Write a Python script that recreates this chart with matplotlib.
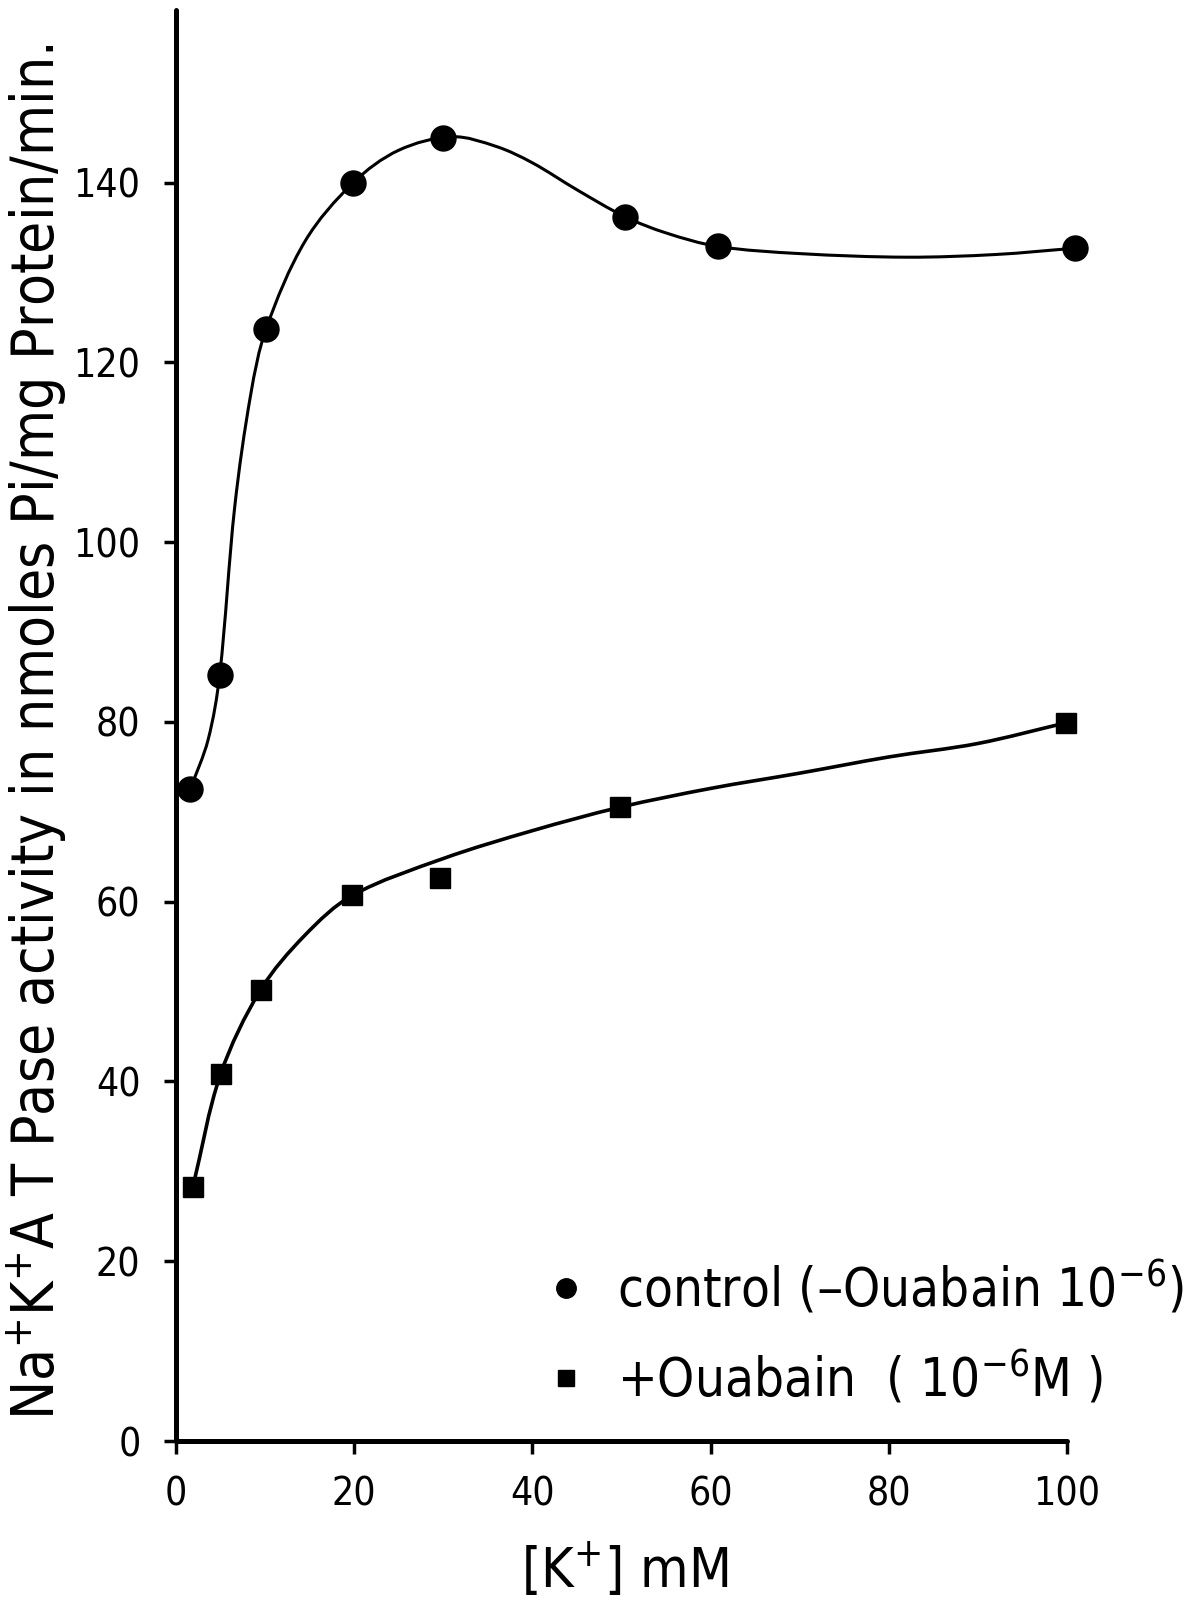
import matplotlib
matplotlib.use("Agg")
import matplotlib.pyplot as plt
from matplotlib import font_manager
from matplotlib.path import Path
from matplotlib.patches import PathPatch
from matplotlib.lines import Line2D
import numpy as np

# measured points
k_control = [1.6, 4.9, 10.1, 19.9, 30.0, 50.4, 60.8, 100.9]
act_control = [72.5, 85.2, 123.7, 140.0, 145.0, 136.2, 132.9, 132.7]
k_ouabain = [1.9, 5.0, 9.5, 19.8, 29.6, 49.8, 99.9]
act_ouabain = [28.3, 40.8, 50.2, 60.7, 62.6, 70.5, 79.9]

# hand drawn curves, knots
fit_control_k = [1.6, 3.6, 4.9, 6.6, 8.4, 10.1, 14.5, 19.9, 25.0, 31.0,
                 36.0, 40.0, 45.0, 50.4, 55.0, 60.8, 70.0, 82.0, 92.0, 100.9]
fit_control_act = [72.5, 78.0, 85.2, 104.0, 116.5, 123.7, 133.5, 140.0, 143.6,
                   145.1, 144.0, 142.2, 139.2, 136.2, 134.4, 132.9, 132.1,
                   131.7, 132.0, 132.7]
fit_ouabain_k = [1.9, 5.0, 9.5, 14.5, 19.8, 30.0, 40.0, 49.8, 60.0, 70.0,
                 80.0, 90.0, 99.9]
fit_ouabain_act = [28.3, 40.8, 50.2, 56.3, 60.7, 64.8, 67.9, 70.5, 72.6,
                   74.3, 76.1, 77.6, 79.9]

xticks = [0, 20, 40, 60, 80, 100]
yticks = [0, 20, 40, 60, 80, 100, 120, 140]

plt.rcParams['font.family'] = 'DejaVu Sans'
plt.rcParams['font.stretch'] = 'condensed'
condensed = any(f.name == 'DejaVu Sans' and f.stretch == 'condensed'
                for f in font_manager.fontManager.ttflist)
k = 1.0 if condensed else 0.82


def smooth_path(xs, ys):
    # chord length catmull-rom as cubic bezier segments
    p = np.column_stack([xs, ys]).astype(float)
    n = len(p)
    d = np.hypot(*(p[1:] - p[:-1]).T)
    m = np.zeros_like(p)
    m[0] = (p[1] - p[0]) / d[0]
    m[-1] = (p[-1] - p[-2]) / d[-1]
    for i in range(1, n - 1):
        m[i] = (p[i + 1] - p[i - 1]) / (d[i - 1] + d[i])
    verts = [p[0]]
    codes = [Path.MOVETO]
    for i in range(n - 1):
        verts += [p[i] + m[i] * d[i] / 3, p[i + 1] - m[i + 1] * d[i] / 3, p[i + 1]]
        codes += [Path.CURVE4] * 3
    return Path(verts, codes)


fig = plt.figure(figsize=(11.94, 16.09), dpi=100)
ax = fig.add_axes([0.1474, 0.10441, 0.7462, 0.88937])
ax.set_xlim(0, 100)
ax.set_ylim(0, 159.2)

ax.add_patch(PathPatch(smooth_path(fit_control_k, fit_control_act),
                       fill=False, lw=2.2, color='black', zorder=2))
ax.add_patch(PathPatch(smooth_path(fit_ouabain_k, fit_ouabain_act),
                       fill=False, lw=2.6, color='black', zorder=2))
ax.plot(k_control, act_control, 'o', color='black', ms=18, zorder=3, clip_on=False)
ax.plot(k_ouabain, act_ouabain, 's', color='black', ms=14, zorder=3, clip_on=False)

for s in ['top', 'right']:
    ax.spines[s].set_visible(False)
for s in ['left', 'bottom']:
    ax.spines[s].set_linewidth(3.6)
    ax.spines[s].set_capstyle('round')

ax.set_xticks(xticks)
ax.set_yticks(yticks)
ax.tick_params(direction='out', length=9, width=2.5, labelsize=28, color='black')
ax.tick_params(axis='x', pad=16)
ax.tick_params(axis='y', pad=16.5)

fig.text(37 / 1194, 1 - 732 / 1609,
         'Na$^{+}$K$^{+}$A T Pase activity in nmoles Pi/mg Protein/min.',
         rotation=90, ha='center', va='center', fontsize=42 * k)
fig.text(625 / 1194, 1 - 1570 / 1609, '[K$^{+}$] mM',
         ha='center', va='center', fontsize=40)

handles = [Line2D([], [], ls='none', marker='o', ms=14, color='black'),
           Line2D([], [], ls='none', marker='s', ms=11, color='black')]
labels = ['control (–Ouabain 10$^{-6}$)', '+Ouabain  ( 10$^{-6}$M )']
ax.legend(handles, labels, loc='center left',
          bbox_to_anchor=(540 / 1194, 1 - 1333 / 1609),
          bbox_transform=fig.transFigure, frameon=False, fontsize=38 * k,
          handlelength=1.0, handletextpad=0.45, labelspacing=0.6,
          borderpad=0, borderaxespad=0)

fig.savefig('out.png', dpi=100)
